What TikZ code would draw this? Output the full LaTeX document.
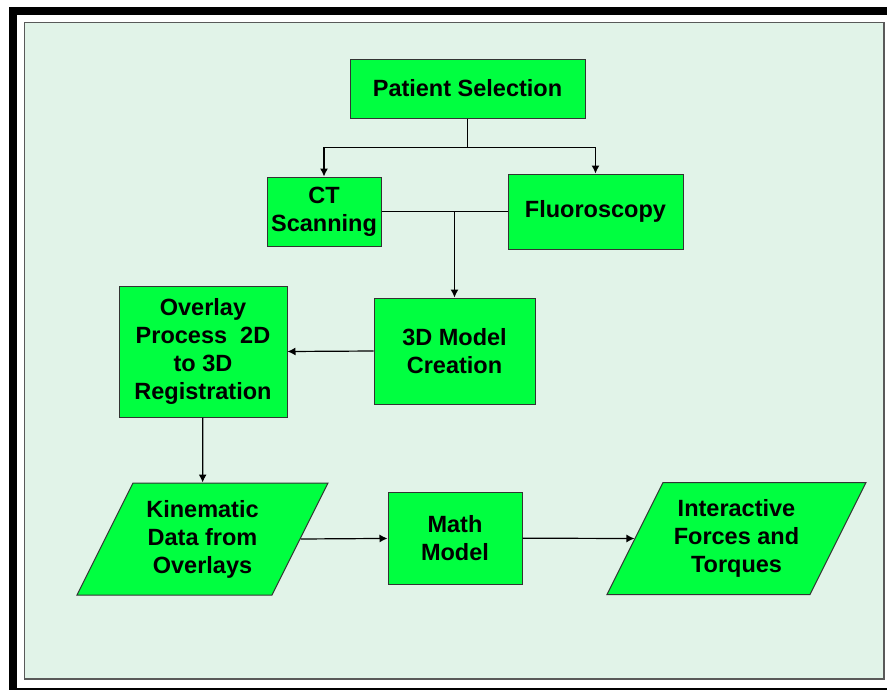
\documentclass[tikz,border=0pt]{standalone}
\usepackage{fontspec}
\setmainfont{Liberation Sans}
\usetikzlibrary{shapes.geometric,arrows.meta}
\definecolor{boxgreen}{RGB}{0,255,64}
\definecolor{panelgreen}{RGB}{225,243,232}

\begin{document}
\begin{tikzpicture}[x=1pt,y=-1pt,
    box/.style={draw=black!80,line width=1pt,fill=boxgreen,align=center,inner sep=0pt,
        font=\bfseries\fontsize{23.5}{28}\selectfont},
    data/.style={box,trapezium,trapezium left angle=63.4,trapezium right angle=116.6,
        trapezium stretches body,inner ysep=17pt},
    link/.style={line width=1.2pt,-{Latex[length=8pt,width=8pt]}}]
    \useasboundingbox (0,0) rectangle (887,689);
    \clip (0,0) rectangle (887,689);
    \fill[white] (0,0) rectangle (887,689);
    \draw[line width=8pt] (13,11) rectangle (895,692);
    \draw[fill=panelgreen,draw=black!65,line width=1.5pt] (24.5,22.5) rectangle (884,679);

    \node[box,minimum width=235,minimum height=59] (patient) at (467.5,88.5) {Patient Selection};
    \node[box,minimum width=114,minimum height=69] (ct) at (324,211.5) {CT\\Scanning};
    \node[box,minimum width=175,minimum height=75] (fluoro) at (595.5,211.5) {Fluoroscopy};
    \node[box,minimum width=161,minimum height=106] (model) at (454.5,351) {3D Model\\Creation};
    \node[box,minimum width=168,minimum height=131] (overlay) at (203,351.5) {Overlay\\Process \ 2D\\to 3D\\Registration};
    \node[data,minimum width=251,minimum height=112] (kinematic) at (202.5,539) {Kinematic\\Data from\\Overlays};
    \node[box,minimum width=134,minimum height=92] (math) at (455,538) {Math\\Model};
    \node[data,minimum width=259,minimum height=112] (forces) at (736.5,538.5) {Interactive\\Forces and\\Torques};

    \draw[link] (patient.south) -- ++(0,29) -| (ct.north);
    \draw[link] (patient.south) -- ++(0,29) -| (fluoro.north);
    \draw[line width=1.2pt] (ct) -- (fluoro);
    \draw[link] (model.north |- ct.east) -- (model.north);
    \draw[link] (model.west) -- (overlay.east);
    \draw[link] (overlay) -- (kinematic);
    \draw[link] (kinematic.east) -- (math);
    \draw[link] (math) -- (forces.west);
\end{tikzpicture}
\end{document}
